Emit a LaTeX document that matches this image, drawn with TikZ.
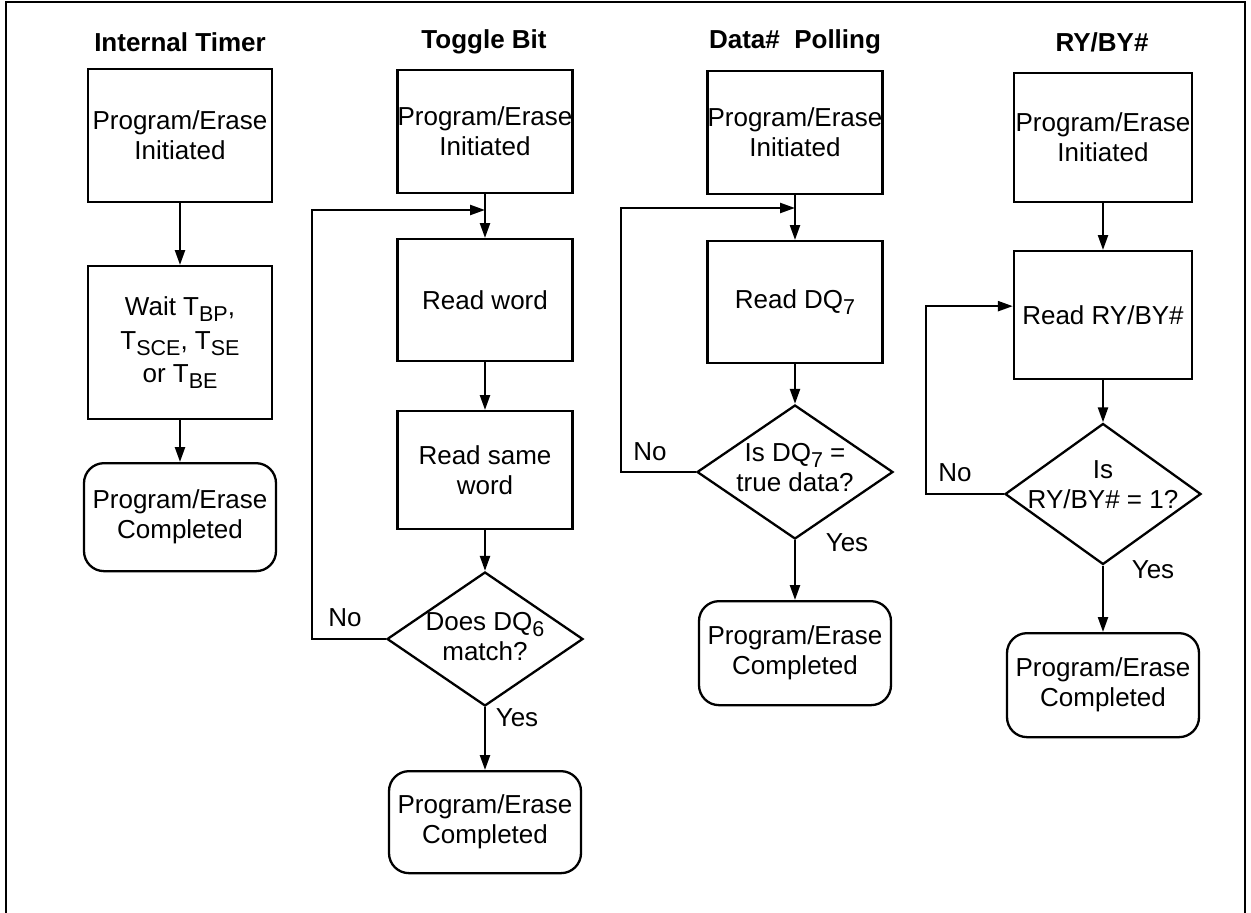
\documentclass[tikz,border=0pt]{standalone}
\usepackage{fontspec}
\setmainfont{Liberation Sans}
\usetikzlibrary{arrows.meta,shapes.geometric}
% lowered index as printed in the chart
\newcommand{\lo}[1]{\raisebox{-5.5pt}{\fontsize{21.5}{21.5}\selectfont #1}}

\begin{document}
\begin{tikzpicture}[x=1pt,y=-1pt,
    font=\fontsize{26}{30}\selectfont,
    every node/.style={inner sep=0pt},
    title/.style={font=\fontsize{26}{30}\selectfont\bfseries},
    stepbox/.style={draw,line width=2.3pt,anchor=north,align=center,minimum width=175},
    endbox/.style={stepbox,rounded corners=20pt,minimum width=192},
    testbox/.style={draw,line width=2.3pt,diamond,minimum width=196,minimum height=134},
    flow/.style={line width=2.3pt,-{Triangle[length=15pt,width=10pt]}}]
    \useasboundingbox (0,0) rectangle (1251,913);
    \draw[line width=2.3pt] (6,913) |- (1245,2) -- (1245,913);

    % Internal Timer
    \node[title] (t1) at (180,42) {Internal Timer};
    \node[stepbox,minimum width=184,minimum height=133] (a1) at (180,68) {Program/Erase\\Initiated};
    \node[stepbox,minimum width=184,minimum height=153] (a2) at (180,265)
      {Wait T\lo{BP},\\[4pt]T\lo{SCE}, T\lo{SE}\\[3pt]or T\lo{BE}};
    \node[endbox,minimum height=108] (a3) at (180,462) {Program/Erase\\Completed};
    \draw[flow] (a1) -- (a2);
    \draw[flow] (a2) -- (a3);

    % Toggle Bit
    \node[title] (t2) at (484,42) {Toggle Bit};
    \node[stepbox,minimum height=123] (b1) at (485,69) {Program/Erase\\Initiated};
    \node[stepbox,minimum height=122] (b2) at (485,238) {Read word};
    \node[stepbox,minimum height=118] (b3) at (485,410) {Read same\\word};
    \node[testbox,label={[align=center,yshift=2pt]center:{Does DQ\lo{6}\\match?}}] (b4) at (485,639) {};
    \node[endbox,minimum height=102] (b5) at (485,770) {Program/Erase\\Completed};
    \coordinate (j2) at (485,210);
    \draw[flow] (b1) -- (b2);
    \draw[flow] (b2) -- (b3);
    \draw[flow] (b3) -- (b4);
    \draw[flow] (b4) -- (b5);
    \draw[flow] (b4.west) -- ++(-74,0) |- (j2);
    \node (no2) at (345,618) {No};
    \node (yes2) at (517,718) {Yes};

    % Data# Polling
    \node[title] (t3) at (795,42) {Data\# \ Polling};
    \node[stepbox,minimum height=123] (c1) at (795,70) {Program/Erase\\Initiated};
    \node[stepbox,minimum height=122] (c2) at (795,240) {Read DQ\lo{7}};
    \node[testbox,label={[align=center,yshift=4pt]center:{Is DQ\lo{7} =\\true data?}}] (c3) at (795,472) {};
    \node[endbox,minimum height=104] (c4) at (795,600) {Program/Erase\\Completed};
    \coordinate (j3) at (795,208);
    \draw[flow] (c1) -- (c2);
    \draw[flow] (c2) -- (c3);
    \draw[flow] (c3) -- (c4);
    \draw[flow] (c3.west) -- ++(-75,0) |- (j3);
    \node (no3) at (650,452) {No};
    \node (yes3) at (847,543) {Yes};

    % RY/BY#
    \node[title] (t4) at (1102,42) {RY/BY\#};
    \node[stepbox,minimum width=178,minimum height=129] (d1) at (1103,72) {Program/Erase\\Initiated};
    \node[stepbox,minimum width=178,minimum height=128] (d2) at (1103,250) {Read RY/BY\#};
    \node[testbox,minimum height=141,label={[align=center,yshift=9pt]center:{Is\\RY/BY\# = 1?}}] (d3) at (1103,494) {};
    \node[endbox,minimum height=104] (d4) at (1103,632) {Program/Erase\\Completed};
    \coordinate (j4) at ([yshift=9pt]d2.west);
    \draw[flow] (d1) -- (d2);
    \draw[flow] (d2) -- (d3);
    \draw[flow] (d3) -- (d4);
    \draw[flow] (d3.west) -- ++(-78,0) |- (j4);
    \node (no4) at (955,473) {No};
    \node (yes4) at (1153,570) {Yes};
\end{tikzpicture}
\end{document}
